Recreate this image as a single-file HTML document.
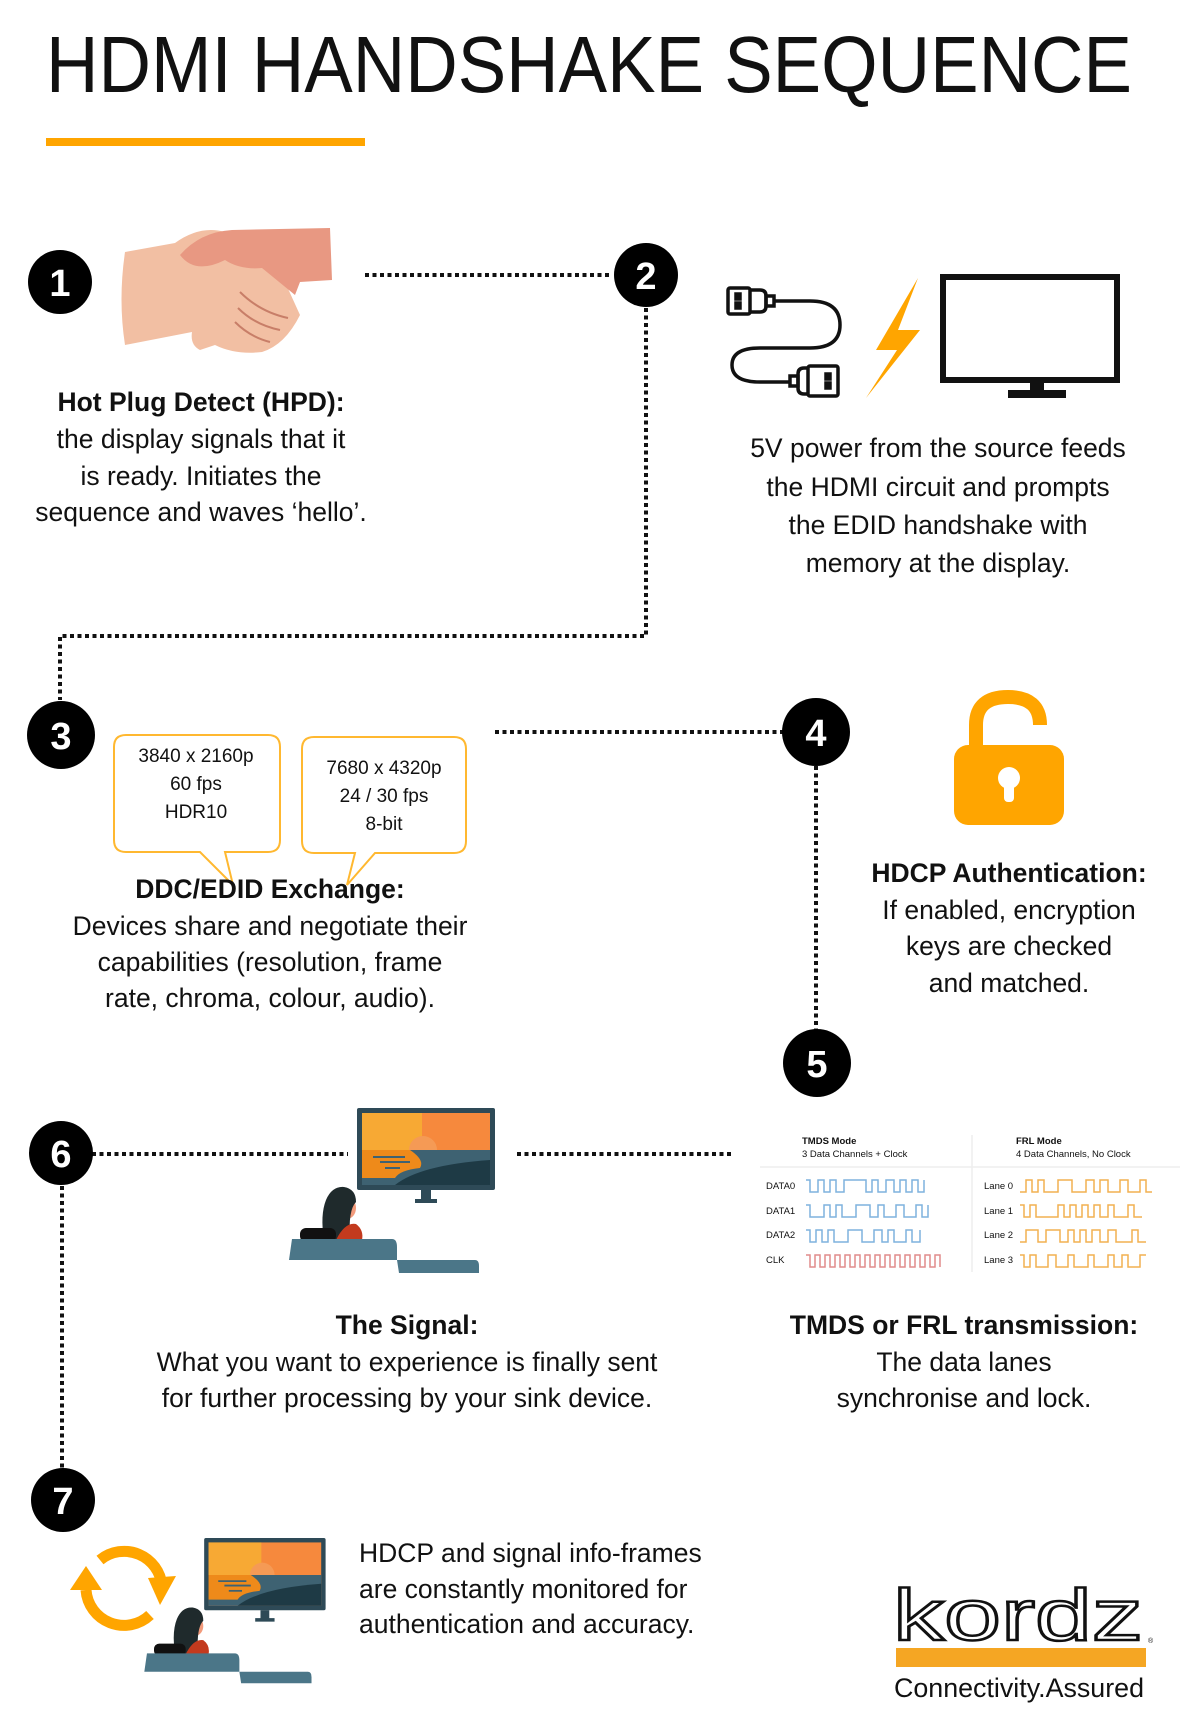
<!DOCTYPE html>
<html><head><meta charset="utf-8"><style>
html,body{margin:0;padding:0;background:#fff}
svg{display:block}
text{font-family:"Liberation Sans",sans-serif;fill:#111}
</style></head><body>
<svg width="1197" height="1716" viewBox="0 0 1197 1716" xmlns="http://www.w3.org/2000/svg">
<defs>
<g id="scene">
<rect x="357" y="1108" width="138" height="82" rx="2" fill="#2E4A57"/>
<rect x="362" y="1113" width="128" height="72" fill="#F6893D"/>
<rect x="362" y="1113" width="60" height="42" fill="#F7A934"/>
<circle cx="423" cy="1150" r="14" fill="#F59A55"/>
<rect x="362" y="1150" width="128" height="35" fill="#3E6272"/>
<path d="M362 1150 H410 Q425 1160 420 1168 Q400 1170 395 1178 L362 1178Z" fill="#EE8A1A"/>
<path d="M395 1185 Q420 1165 490 1160 V1185Z" fill="#1E3A45"/>
<g stroke="#3E6272" stroke-width="2"><path d="M373 1157 H405"/><path d="M380 1162 H410"/><path d="M385 1168 H400"/></g>
<rect x="421" y="1190" width="10" height="10" fill="#2E4A57"/><rect x="415" y="1199" width="22" height="4" fill="#2E4A57"/>
<ellipse cx="347" cy="1208" rx="9" ry="11" fill="#F29B7C"/>
<path d="M324 1240 Q320 1215 326 1200 Q332 1186 344 1187 Q356 1189 356 1202 Q348 1210 350 1240Z" fill="#1F2A2C"/>
<path d="M336 1240 Q345 1222 356 1224 Q364 1230 362 1240Z" fill="#C33A1E"/>
<rect x="300" y="1228" width="36" height="14" rx="6" fill="#111"/>
<path d="M292 1239 H392 Q397 1239 397 1247 V1260 H289Z" fill="#4B7688"/>
<path d="M397 1260 H475 Q479 1260 479 1266 V1273 H399Z" fill="#4B7688"/>
</g>
</defs>
<rect width="1197" height="1716" fill="#fff"/>
<text x="46" y="92" font-size="80" textLength="1086" lengthAdjust="spacingAndGlyphs">HDMI HANDSHAKE SEQUENCE</text>
<rect x="46" y="138" width="319" height="8" fill="#FFA500"/>

<g stroke="#111" stroke-width="4" stroke-dasharray="4 3.5" fill="none">
<path d="M365 275 H612"/>
<path d="M646 308 V636 H60 V700"/>
<path d="M495 732 H784"/>
<path d="M816 766 V1030"/>
<path d="M92 1154 H348"/>
<path d="M517 1154 H733"/>
<path d="M62 1186 V1470"/>
</g>

<g font-weight="bold" font-size="38" text-anchor="middle">
<circle cx="60" cy="282" r="32" fill="#000"/><text x="60" y="296" style="fill:#fff">1</text>
<circle cx="646" cy="275" r="32" fill="#000"/><text x="646" y="289" style="fill:#fff">2</text>
<circle cx="61" cy="735" r="34" fill="#000"/><text x="61" y="749" style="fill:#fff">3</text>
<circle cx="816" cy="732" r="34" fill="#000"/><text x="816" y="746" style="fill:#fff">4</text>
<circle cx="817" cy="1063" r="34" fill="#000"/><text x="817" y="1077" style="fill:#fff">5</text>
<circle cx="61" cy="1153" r="32" fill="#000"/><text x="61" y="1167" style="fill:#fff">6</text>
<circle cx="63" cy="1500" r="32" fill="#000"/><text x="63" y="1514" style="fill:#fff">7</text>
</g>

<g>
<path d="M125 252 L175 243 Q200 225 225 232 L275 260 L300 315 Q285 345 262 352 Q235 355 215 345 L200 350 Q190 345 192 332 L125 345 Q118 300 125 252Z" fill="#F2BFA3"/>
<path d="M180 255 Q200 232 232 230 L330 228 L332 280 L300 282 L295 295 L262 268 Q240 270 225 260 Q195 275 180 255Z" fill="#E89882"/>
<g stroke="#C87E68" stroke-width="2" fill="none">
<path d="M240 292 Q260 312 288 318"/><path d="M238 308 Q255 325 280 330"/><path d="M235 322 Q250 337 270 342"/>
</g>
</g>

<g fill="none" stroke="#111" stroke-width="3.5">
<rect x="728" y="288" width="22" height="26" rx="2"/>
<path d="M750 290 h10 q6 0 6 6 v10 q0 6 -6 6 h-10"/>
<rect x="766" y="296" width="8" height="10"/>
<path d="M774 301 H810 Q840 301 840 325 Q840 348 810 348 H760 Q732 348 732 365 Q732 382 760 382 H790"/>
<rect x="790" y="376" width="8" height="10"/>
<path d="M808 368 h-4 q-6 0 -6 6 v14 q0 6 6 6 h4"/>
<rect x="808" y="366" width="30" height="30" rx="2"/>
<rect x="736" y="294" width="4" height="5" fill="#111"/><rect x="736" y="303" width="4" height="5" fill="#111"/>
<rect x="826" y="374" width="4" height="5" fill="#111"/><rect x="826" y="383" width="4" height="5" fill="#111"/>
</g>
<path d="M918 278 L876 350 L897 350 L866 398 L920 330 L898 330 Z" fill="#FFA500"/>
<rect x="943" y="277" width="174" height="103" fill="none" stroke="#111" stroke-width="6"/>
<rect x="1030" y="380" width="14" height="12" fill="#111"/>
<rect x="1008" y="390" width="58" height="8" fill="#111"/>

<g font-size="26.5" text-anchor="middle">
<text x="201" y="411" font-weight="bold">Hot Plug Detect (HPD):</text>
<text x="201" y="448">the display signals that it</text>
<text x="201" y="485">is ready. Initiates the</text>
<text x="201" y="521">sequence and waves ‘hello’.</text>
<text x="938" y="457">5V power from the source feeds</text>
<text x="938" y="496">the HDMI circuit and prompts</text>
<text x="938" y="534">the EDID handshake with</text>
<text x="938" y="572">memory at the display.</text>
</g>

<g fill="#fff" stroke="#FFB830" stroke-width="2">
<path d="M126 735 H268 Q280 735 280 747 V840 Q280 852 268 852 H225 L233 885 L200 852 H126 Q114 852 114 840 V747 Q114 735 126 735Z"/>
<path d="M314 737 H454 Q466 737 466 749 V841 Q466 853 454 853 H375 L347 885 L355 853 H314 Q302 853 302 841 V749 Q302 737 314 737Z"/>
</g>
<g font-size="19" text-anchor="middle">
<text x="196" y="762">3840 x 2160p</text><text x="196" y="790">60 fps</text><text x="196" y="818">HDR10</text>
<text x="384" y="774">7680 x 4320p</text><text x="384" y="802">24 / 30  fps</text><text x="384" y="830">8-bit</text>
</g>
<g font-size="26.5" text-anchor="middle">
<text x="270" y="898" font-weight="bold">DDC/EDID Exchange:</text>
<text x="270" y="935">Devices share and negotiate their</text>
<text x="270" y="971">capabilities (resolution, frame</text>
<text x="270" y="1007">rate, chroma, colour, audio).</text>
<text x="1009" y="882" font-weight="bold">HDCP Authentication:</text>
<text x="1009" y="919">If enabled, encryption</text>
<text x="1009" y="955">keys are checked</text>
<text x="1009" y="992">and matched.</text>
</g>

<path d="M976 745 V725 Q976 697 1008 697 Q1040 697 1040 725" fill="none" stroke="#FFA500" stroke-width="14"/>
<rect x="954" y="745" width="110" height="80" rx="14" fill="#FFA500"/>
<circle cx="1009" cy="778" r="11" fill="#fff"/>
<rect x="1004" y="780" width="10" height="22" rx="4" fill="#fff"/>

<use href="#scene"/>
<g font-size="26.5" text-anchor="middle">
<text x="407" y="1334" font-weight="bold">The Signal:</text>
<text x="407" y="1371">What you want to experience is finally sent</text>
<text x="407" y="1407">for further processing by your sink device.</text>
<text x="964" y="1334" font-weight="bold">TMDS or FRL transmission:</text>
<text x="964" y="1371">The data lanes</text>
<text x="964" y="1407">synchronise and lock.</text>
</g>

<g font-size="9.5">
<text x="802" y="1144" font-weight="bold">TMDS Mode</text>
<text x="802" y="1157">3 Data Channels + Clock</text>
<text x="1016" y="1144" font-weight="bold">FRL Mode</text>
<text x="1016" y="1157">4 Data Channels, No Clock</text>
<text x="766" y="1189">DATA0</text><text x="766" y="1214">DATA1</text><text x="766" y="1238">DATA2</text><text x="766" y="1263">CLK</text>
<text x="984" y="1189">Lane 0</text><text x="984" y="1214">Lane 1</text><text x="984" y="1238">Lane 2</text><text x="984" y="1263">Lane 3</text>
</g>
<line x1="760" y1="1167" x2="1180" y2="1167" stroke="#eee" stroke-width="1.5"/>
<line x1="972" y1="1135" x2="972" y2="1272" stroke="#eee" stroke-width="1.5"/>
<g fill="none" stroke-width="1.5">
<path stroke="#7FB2DE" d="M806 1180 h4 v12 h8 v-12 h6 v12 h6 v-12 h6 v12 h8 v-12 h22 v12 h6 v-12 h6 v12 h8 v-12 h8 v12 h6 v-12 h6 v12 h6 v-12 h6 v12 h6 v-12"/>
<path stroke="#7FB2DE" d="M806 1205 h4 v12 h14 v-12 h6 v12 h6 v-12 h6 v12 h14 v-12 h14 v12 h8 v-12 h6 v12 h12 v-12 h8 v12 h12 v-12 h6 v12 h6 v-12"/>
<path stroke="#7FB2DE" d="M806 1230 h4 v12 h6 v-12 h6 v12 h6 v-12 h6 v12 h14 v-12 h14 v12 h12 v-12 h8 v12 h6 v-12 h6 v12 h12 v-12 h6 v12 h8 v-12"/>
<path stroke="#E08C8C" d="M806 1255 h4 v12 h5 v-12 h5 v12 h5 v-12 h5 v12 h5 v-12 h5 v12 h5 v-12 h5 v12 h5 v-12 h5 v12 h5 v-12 h5 v12 h5 v-12 h5 v12 h5 v-12 h5 v12 h5 v-12 h5 v12 h5 v-12 h5 v12 h5 v-12 h5 v12 h5 v-12 h5 v12 h5 v-12 h5 v12"/>
<path stroke="#F2B150" d="M1020 1192 h6 v-12 h6 v12 h6 v-12 h6 v12 h14 v-12 h14 v12 h14 v-12 h8 v12 h6 v-12 h8 v12 h12 v-12 h8 v12 h12 v-12 h6 v12 h6"/>
<path stroke="#F2B150" d="M1020 1205 h4 v12 h6 v-12 h6 v12 h22 v-12 h6 v12 h6 v-12 h6 v12 h6 v-12 h6 v12 h6 v-12 h6 v12 h8 v-12 h6 v12 h14 v-12 h6 v12 h8"/>
<path stroke="#F2B150" d="M1020 1242 h6 v-12 h12 v12 h8 v-12 h14 v12 h8 v-12 h6 v12 h6 v-12 h6 v12 h6 v-12 h8 v12 h8 v-12 h8 v12 h16 v-12 h6 v12 h8"/>
<path stroke="#F2B150" d="M1020 1255 h4 v12 h6 v-12 h6 v12 h12 v-12 h8 v12 h12 v-12 h6 v12 h14 v-12 h6 v12 h14 v-12 h6 v12 h8 v-12 h6 v12 h12 v-12 h6"/>
</g>

<g fill="none" stroke="#FFA500" stroke-width="11">
<path d="M100 1560 A38 38 0 0 1 162 1586"/>
<path d="M150 1615 A38 38 0 0 1 86 1590"/>
</g>
<path d="M148 1578 L176 1576 L160 1605Z" fill="#FFA500"/>
<path d="M70 1590 L102 1590 L86 1566Z" fill="#FFA500"/>
<use href="#scene" transform="translate(-110 563) scale(0.88)"/>
<g font-size="26.5">
<text x="359" y="1562">HDCP and signal info-frames</text>
<text x="359" y="1598">are constantly monitored for</text>
<text x="359" y="1633">authentication and accuracy.</text>
</g>

<text x="893" y="1640" font-size="72" textLength="250" lengthAdjust="spacingAndGlyphs" style="fill:none;stroke:#111;stroke-width:2.5">kordz</text>
<rect x="896" y="1648" width="250" height="19" fill="#F5A623"/>
<text x="1148" y="1643" font-size="7">®</text>
<text x="894" y="1697" font-size="27" textLength="250" lengthAdjust="spacingAndGlyphs">Connectivity.Assured</text>
</svg>
</body></html>
